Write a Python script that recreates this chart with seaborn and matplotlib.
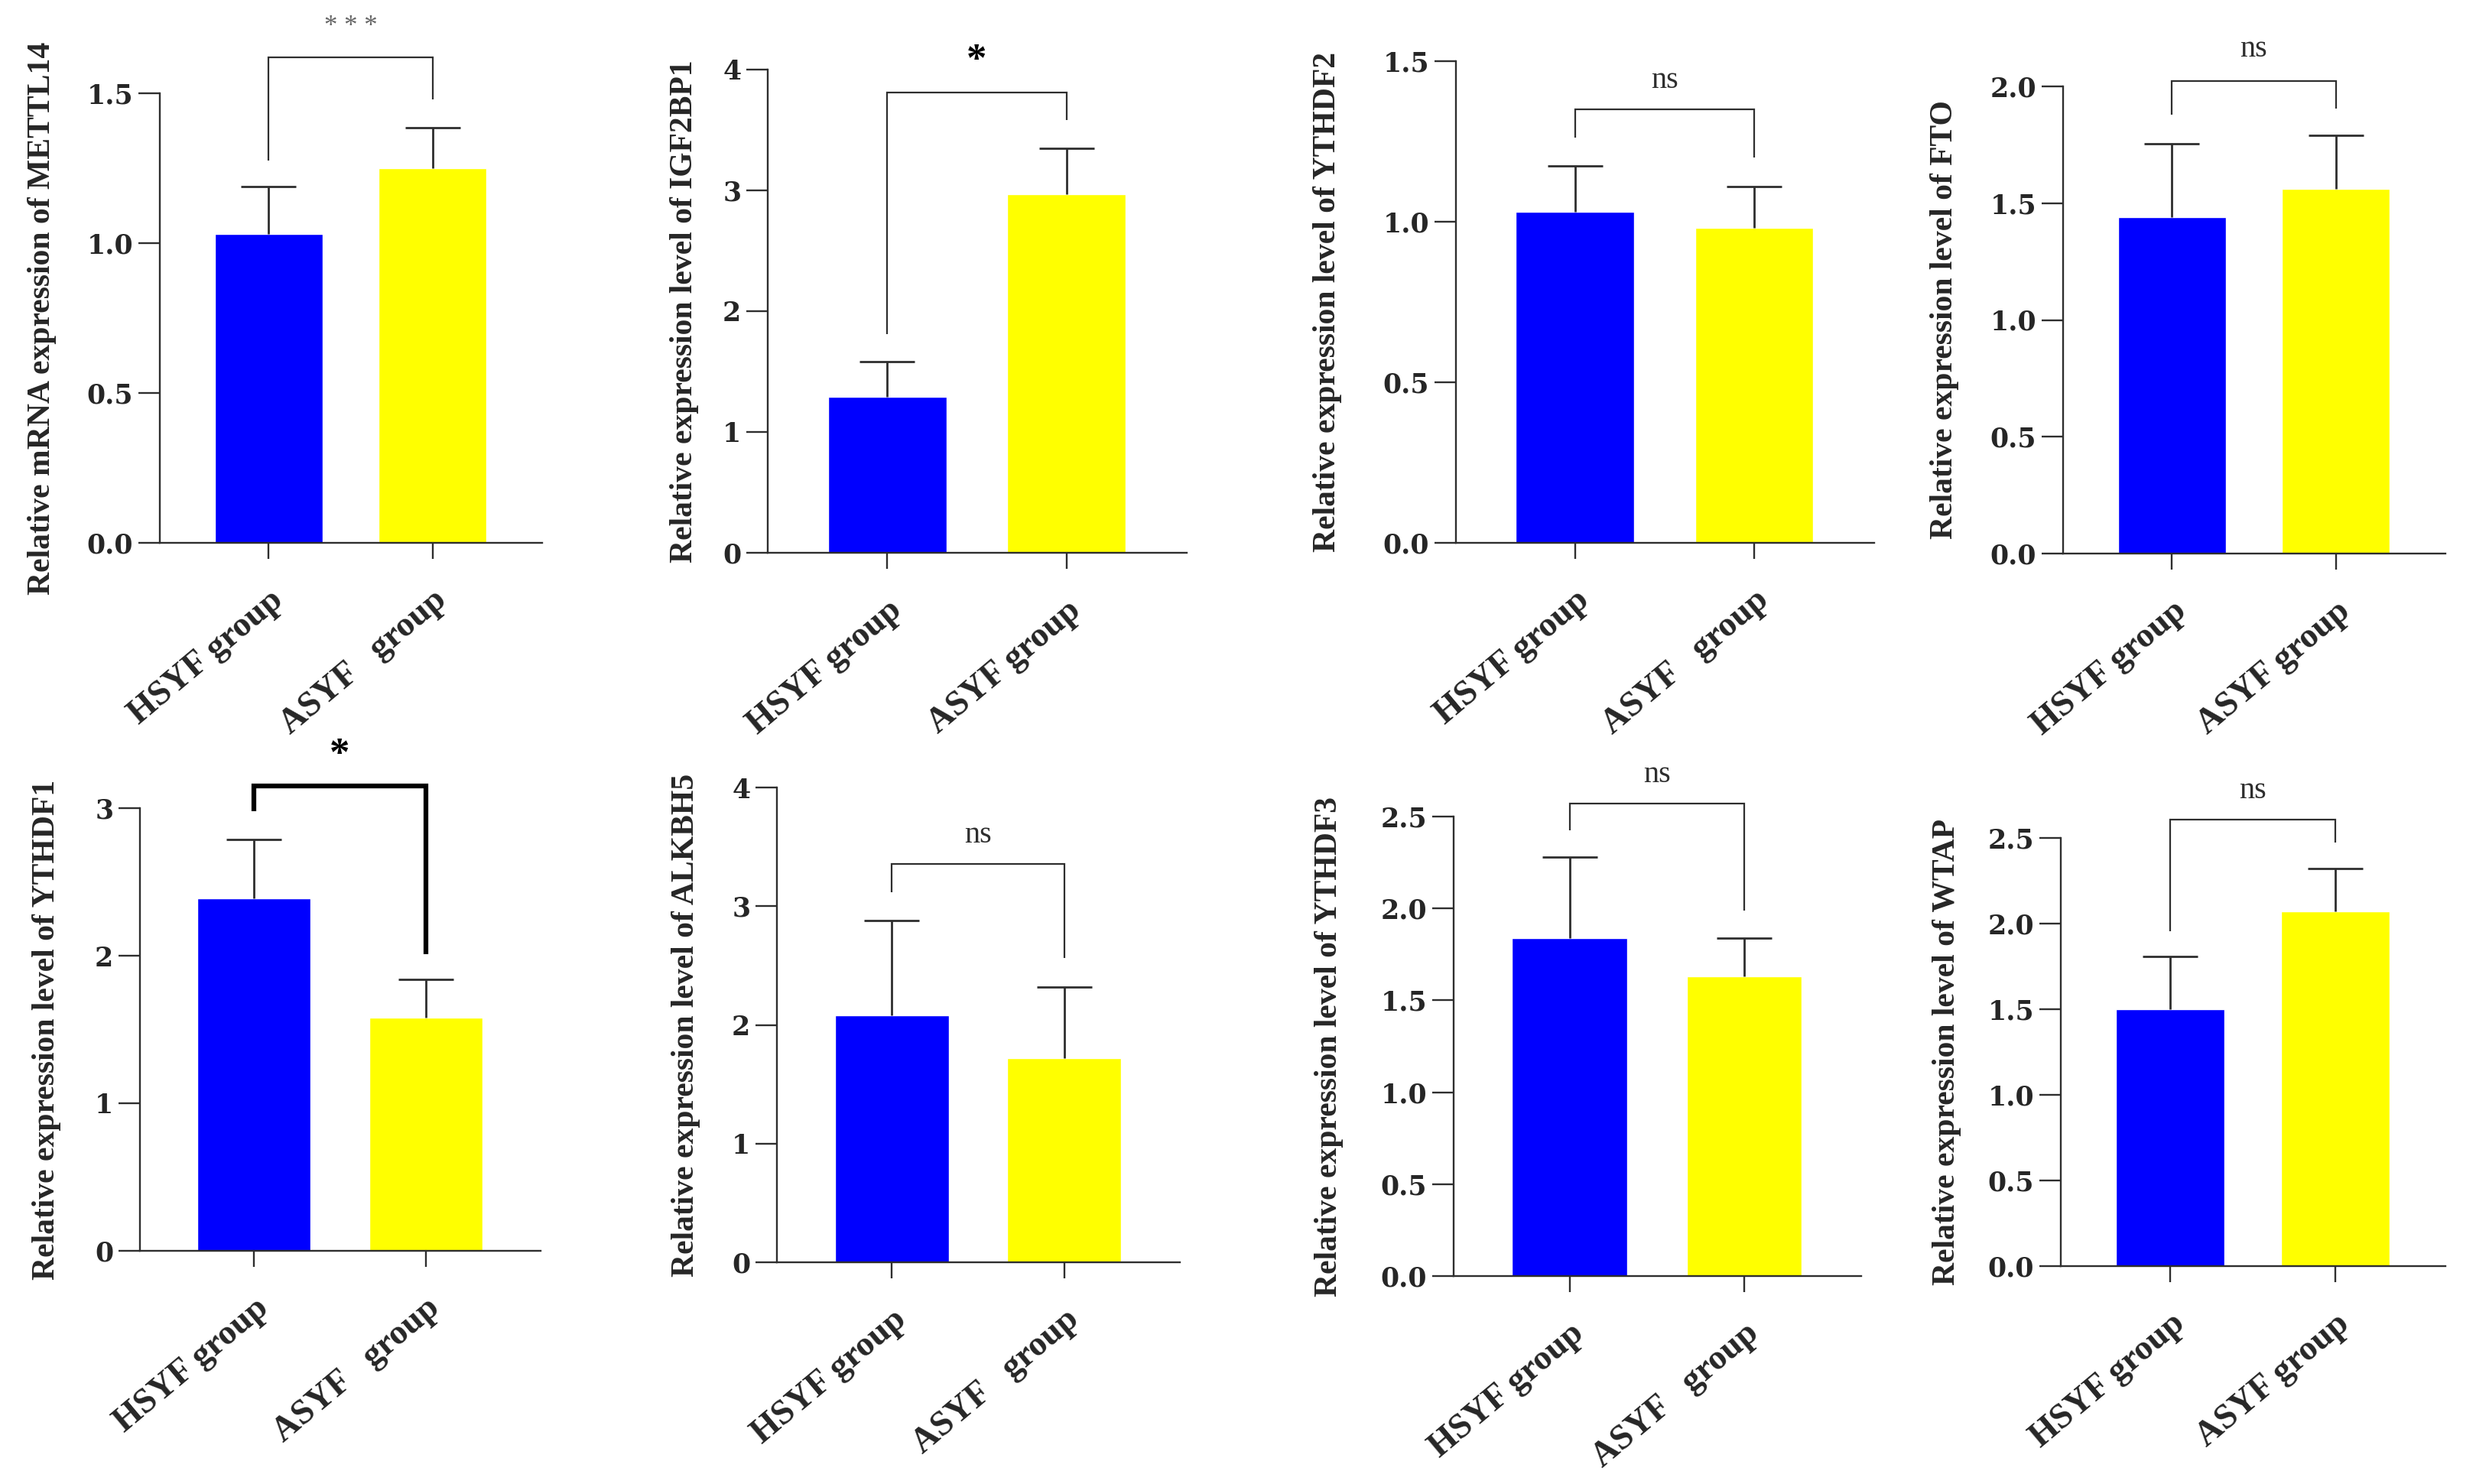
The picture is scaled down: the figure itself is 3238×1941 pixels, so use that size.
import seaborn as sns
import matplotlib.pyplot as plt
from matplotlib.transforms import ScaledTranslation
import numpy as np

# values (means and upper error)
genes = ["METTL14", "IGF2BP1", "YTHDF2", "FTO", "YTHDF1", "ALKBH5", "YTHDF3", "WTAP"]
ylabels = ["Relative mRNA expression of METTL14"] + \
    ["Relative expression level of " + g for g in genes[1:]]
hsyf_labels = ["HSYF group"] * 8
asyf_labels = ["ASYF   group", "ASYF group", "ASYF   group", "ASYF group",
               "ASYF   group", "ASYF   group", "ASYF   group", "ASYF group"]
hsyf_mean = [1.03, 1.29, 1.03, 1.44, 2.39, 2.08, 1.84, 1.50]
hsyf_err = [0.16, 0.29, 0.145, 0.315, 0.40, 0.80, 0.44, 0.31]
asyf_mean = [1.25, 2.97, 0.98, 1.56, 1.58, 1.72, 1.63, 2.07]
asyf_err = [0.135, 0.375, 0.13, 0.23, 0.26, 0.60, 0.21, 0.25]
ymax = [1.5, 4, 1.5, 2.0, 3, 4, 2.5, 2.5]
ystep = [0.5, 1, 0.5, 0.5, 1, 1, 0.5, 0.5]
sig = ["* * *", "*", "ns", "ns", "*", "ns", "ns", "ns"]
bracket_top = [1.62, 3.81, 1.35, 2.024, 3.15, 3.355, 2.57, 2.606]
left_leg = [1.276, 1.81, 1.263, 1.88, 2.977, 3.12, 2.427, 1.957]
right_leg = [1.48, 3.585, 1.201, 1.906, 2.01, 2.566, 1.99, 2.472]
sig_y = [1.72, 4.07, 1.44, 2.16, 3.36, 3.6, 2.726, 2.774]

bar_colors = ["#0000FF", "#FFFF00"]
line_col = "#2e2e2e"

# layout in pixels: left, top, right, bottom of each plot area
W, H = 3238, 1941
boxes = [(209, 122, 709, 710), (1004, 91, 1552, 723),
         (1904, 80, 2451, 710), (2698, 113, 3198, 724),
         (183, 1057, 707, 1636), (1016, 1030, 1543, 1651),
         (1901, 1068, 2434, 1669), (2695, 1096, 3198, 1656)]
label_x = [74, 914, 1755, 2562, 80, 916, 1757, 2565]

sns.set_style("ticks")
plt.rcParams['font.family'] = ['Liberation Serif', 'DejaVu Serif']

fig = plt.figure(figsize=(W / 100, H / 100), dpi=100, facecolor="white")
shift = ScaledTranslation(14 / 100, 0, fig.dpi_scale_trans)

for i, gene in enumerate(genes):
    l, t, r, b = boxes[i]
    ax = fig.add_axes([l / W, 1 - b / H, (r - l) / W, (b - t) / H])
    cats = [hsyf_labels[i], asyf_labels[i]]
    means = [hsyf_mean[i], asyf_mean[i]]
    errs = [hsyf_err[i], asyf_err[i]]

    sns.barplot(x=cats, y=means, hue=cats, palette=bar_colors, width=0.66,
                saturation=1, errorbar=None, legend=False, ax=ax)
    eb = ax.errorbar([0, 1], means, yerr=[[0, 0], errs], fmt="none",
                     ecolor=line_col, elinewidth=2, capsize=26, capthick=2,
                     zorder=3)
    # keep only the upper caps
    for cap in eb[1]:
        if np.allclose(cap.get_ydata(), means):
            cap.set_visible(False)

    ax.set_xlim(-0.665, 1.67)
    ax.set_ylim(0, ymax[i])
    ticks = np.arange(0, ymax[i] + ystep[i] / 2, ystep[i])
    fmt = "{:.1f}" if ystep[i] < 1 else "{:.0f}"
    ax.set_yticks(ticks, labels=[fmt.format(v) for v in ticks],
                  fontfamily="DejaVu Serif", fontweight="bold", fontsize=25)
    ax.set_xticks([0, 1], labels=cats, rotation=40, ha="right", va="top",
                  rotation_mode="anchor", fontsize=33, fontweight="bold")
    for lab in ax.get_xticklabels():
        lab.set_transform(lab.get_transform() + shift)

    sns.despine(ax=ax)
    for s in ["left", "bottom"]:
        ax.spines[s].set_linewidth(1.7)
        ax.spines[s].set_color(line_col)
    ax.tick_params(axis="y", length=20, width=1.7, pad=5, color=line_col)
    ax.tick_params(axis="x", length=15, width=1.7, pad=24, color=line_col)

    ax.set_ylabel(ylabels[i], fontsize=30, fontweight="bold")
    ax.set_xlabel("")
    ax.yaxis.set_label_coords((label_x[i] - l) / (r - l), 0.5)

    # significance bracket
    thick = i == 4
    ax.plot([0, 0, 1, 1], [left_leg[i], bracket_top[i], bracket_top[i], right_leg[i]],
            color="black" if thick else line_col, lw=4.5 if thick else 1.6,
            clip_on=False, solid_joinstyle="miter", solid_capstyle="butt")
    if sig[i] == "*":
        ax.text(0.5, sig_y[i], sig[i], ha="center", va="center", fontsize=38,
                fontweight="bold", color="black")
    elif sig[i] == "ns":
        ax.text(0.5, sig_y[i], sig[i], ha="center", va="center", fontsize=29,
                color=line_col)
    else:
        ax.text(0.5, sig_y[i], sig[i], ha="center", va="center", fontsize=25,
                color="#666666")

fig.savefig("out.png", dpi=100, facecolor="white")
